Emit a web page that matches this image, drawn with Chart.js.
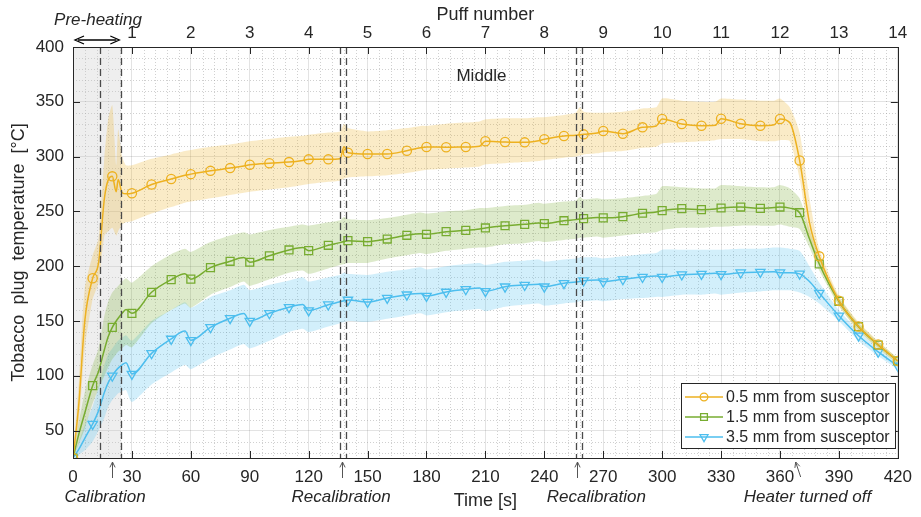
<!DOCTYPE html>
<html>
<head>
<meta charset="utf-8">
<script src="https://cdn.jsdelivr.net/npm/chart.js@4.4.0/dist/chart.umd.min.js"></script>
<style>
  html, body { margin: 0; padding: 0; background: #fff; }
  #wrap { width: 921px; height: 517px; }
</style>
</head>
<body>
<div id="wrap"><canvas id="chart" width="921" height="517"></canvas></div>
<script>
/* ---------- data ---------- */
const timeS = [0,3,6,10,13,16,18,20,22,23, 25,27,30,40,50,57,60,70,80,87, 90,100,110,117,120,130,136,138,140,150,
  160,170,177,180,190,200,207,210,220,230, 237,240,250,256,258,260,267,270,280,290, 297,300,310,320,327,330,340,350,357,360,
  365,370,375,380,390,400,410,420];

const mean05 = [25,75,150,189,203,262,279,282,268,279, 267,266,266.5,274.5,279.5,283,284,287,289.5,291.5,
  292.5,294,295,296.5,297.5,297.5,298,309,303.6,302.4, 302.4,305.4,308,308.8,308.5,308.8,309.5,314,313.3,313,
  314.5,315.8,318.8,319.5,320,320.3,321.5,323.4,320.9,326.7, 328,334.3,329.8,328.2,328.5,334.6,330,328.2,329,334.3,
  331,296.5,240,209,168.5,145,128.5,113.5];
const upper05 = [25,95,180,210,225,300,335,347,292,325, 300,292,292,298,302,305,306,309,311,313,
  314,316,318,319,320,322,323,330,326,323, 324,326,328,328,330,331,332,334,335,335,
  336,336,338,340,345,341,340,340,341,344, 345,353,351,350,350,353,352,351,351,353,
  345,322,262,216,173,149,131.5,116];
const lower05 = [25,58,125,170,185,228,232,235,228,232, 238,240,241,248,254,258,259,262,265,267,
  268,270,272,274,275,277,278,280,281,282, 283,285,287,288,289,290,291,293,294,295,
  296,297,299,300,301,302,303,304,305,308, 309,312,313,314,315,316,316,314,314,315,
  314,280,225,202,164,141,125.5,111];

const mean15 = [25,47,66,91,104,124,136,144.2,150,152.5, 157,160.5,157,176.2,187.7,193,188.2,198.7,204.5,208,
  203.6,209.5,214.8,217,214.2,219.1,221.5,222.5,223.3,222.4, 224.8,228.2,229.5,229.1,231.5,232.7,234,234.9,236.9,238.2,
  239.5,238.8,241.5,242.5,243,243.4,244.5,244.1,245.2,248.3, 249.5,250.7,252.5,251.6,252.2,253.1,254,252.8,253.5,254,
  253,248.8,225,202,168,144.8,128.1,113.5];
const upper15 = [25,58,85,110,125,155,168,176,180,182, 186,189,185,200,211,216,213,222,228,231,
  229,233,236,238,237,240,242,245,243,242, 244,247,249,248,250,251,253,253,255,256,
  258,257,259,260,263,261,262,261,262,264, 266,273,272,271,271,274,273,272,272,274,
  271,262,234,208,172,148,131,116];
const lower15 = [25,38,52,75,88,100,108,115,120,122, 125,128,126,148,160,166,162,174,181,186,
  182,188,194,196,193,198,201,202,203,203, 207,210,212,211,214,216,217,217,220,221,
  223,222,224,225,226,226,227,226,228,230, 231,233,235,235,236,236,237,237,237,238,
  236,234,217,196,164,141.5,125,111];

const mean35 = [25,33,43,56,68,85,94,100,105,107, 110,112,101.6,120.5,133.6,140.8,132.4,144.2,152.5,156.8,
  150,157,162.5,165,159.6,164.9,167.5,168.5,169.2,167.3, 171,174,175,172.8,176.5,178.9,180,177.1,181.3,182.8,
  183.5,181.3,184.4,185.5,186,186.8,187.5,185.9,188,190.1, 191,190.1,192.3,192.9,193.5,192.6,194.1,194.7,195,194.1,
  194,193,186,175.5,154.8,136.5,121.8,109];
const upper35 = [25,40,55,72,90,110,120,125,130,132, 135,137,132,150,160,167,162,172,178,183,
  178,183,187,190,186,190,192,194,193,192, 195,197,199,197,200,202,203,201,204,205,
  206,204,206,207,208,208,208,207,209,211, 212,215,215,215,215,215,216,216,217,217,
  216,214,200,185,160,141,125,112];
const lower35 = [25,28,32,40,50,62,72,78,82,84, 86,87,76,92,103,110,106,116,124,129,
  125,132,140,143,140,145,148,149,150,149, 152,155,157,155,158,160,161,159,163,165,
  166,164,166,167,168,168,169,168,170,171, 172,172,174,174,175,174,176,177,178,178,
  178,176,172,166,150,132,118,106];

const seriesNames = ['0.5 mm from susceptor', '1.5 mm from susceptor', '3.5 mm from susceptor'];
const xTicks = [0,30,60,90,120,150,180,210,240,270,300,330,360,390,420];
const yTicks = [50,100,150,200,250,300,350,400];
const puffTicks = [1,2,3,4,5,6,7,8,9,10,11,12,13,14];

const dashedTimes = [13.6, 24.6, 136, 139, 256.3, 259];
const preheatEnd = 24.6;
const arrowTimes = [20, 137, 256.6];
const heaterOffTime = 369;
const noteTexts = ['Calibration', 'Recalibration', 'Recalibration', 'Heater turned off'];
const noteTimes = [16.3, 136.5, 266.5, 374];

/* ---------- styles ---------- */
const colors = ['#EDB120', '#77AC30', '#4DBEEE'];
const bandColors = ['rgba(237,177,32,0.25)', 'rgba(119,172,48,0.25)', 'rgba(77,190,238,0.25)'];
const pointStyles = ['circle', 'rect', 'triangle'];
const pointRots = [0, 0, 180];
const pointSizes = [4.6, 5.6, 5.4];
const INK = '#262626';
const FONT = '"Liberation Sans", Arial, Helvetica, sans-serif';

function toXY(vals) {
  return timeS.map((t, i) => ({ x: t, y: vals[i] }));
}

const means = [mean05, mean15, mean35];
const uppers = [upper05, upper15, upper35];
const lowers = [lower05, lower15, lower35];

const datasets = [];
means.forEach((m, k) => {
  const lowIdx = datasets.length;
  datasets.push({
    label: 'low' + k, data: toXY(lowers[k]), borderWidth: 0, pointRadius: 0,
    fill: false, order: 20, tension: 0.2
  });
  datasets.push({
    label: 'up' + k, data: toXY(uppers[k]), borderWidth: 0, pointRadius: 0,
    fill: lowIdx, backgroundColor: bandColors[k], order: 20, tension: 0.2
  });
});
means.forEach((m, k) => {
  datasets.push({
    label: seriesNames[k], data: toXY(m), borderColor: colors[k], borderWidth: 1.5,
    cubicInterpolationMode: 'monotone', fill: false, order: 1 + k,
    pointStyle: pointStyles[k], pointRotation: pointRots[k],
    pointRadius: ctx => (ctx.raw && ctx.raw.x % 10 === 0) ? pointSizes[k] : 0,
    pointBorderColor: colors[k], pointBackgroundColor: 'rgba(0,0,0,0)', pointBorderWidth: 1.3
  });
});

/* ---------- plugin: grid extras, annotations, legend ---------- */
const decor = {
  id: 'decor',
  beforeDatasetsDraw(chart) {
    const { ctx, chartArea: a, scales } = chart;
    const xs = scales.x, ys = scales.y;
    ctx.save();
    // minor dotted grid
    ctx.strokeStyle = 'rgba(150,150,150,0.45)';
    ctx.lineWidth = 1;
    ctx.setLineDash([1, 2]);
    for (let t = 6; t < 420; t += 6) {
      if (t % 30 === 0) continue;
      const px = Math.round(xs.getPixelForValue(t)) + 0.5;
      ctx.beginPath(); ctx.moveTo(px, a.top); ctx.lineTo(px, a.bottom); ctx.stroke();
    }
    for (let v = 30; v < 400; v += 10) {
      if (v % 50 === 0) continue;
      const py = Math.round(ys.getPixelForValue(v)) + 0.5;
      ctx.beginPath(); ctx.moveTo(a.left, py); ctx.lineTo(a.right, py); ctx.stroke();
    }
    ctx.setLineDash([]);
    // pre-heating shade
    ctx.fillStyle = 'rgba(200,200,200,0.3)';
    const x0 = xs.getPixelForValue(0), x1 = xs.getPixelForValue(preheatEnd);
    ctx.fillRect(x0, a.top, x1 - x0, a.bottom - a.top);
    ctx.restore();
  },
  afterDatasetsDraw(chart) {
    const { ctx, chartArea: a, scales } = chart;
    const xs = scales.x;
    ctx.save();
    ctx.strokeStyle = '#4a4a4a';
    ctx.lineWidth = 1.3;
    ctx.setLineDash([7, 4]);
    dashedTimes.forEach(t => {
      const px = Math.round(xs.getPixelForValue(t)) + 0.5;
      ctx.beginPath(); ctx.moveTo(px, a.top); ctx.lineTo(px, a.bottom); ctx.stroke();
    });
    ctx.restore();
  },
  afterDraw(chart) {
    const { ctx, chartArea: a, scales } = chart;
    const xs = scales.x, ys = scales.y, xt = scales.xTop;
    ctx.save();
    // inward ticks
    ctx.strokeStyle = INK;
    ctx.lineWidth = 1;
    xTicks.forEach(t => {
      const px = Math.round(xs.getPixelForValue(t)) + 0.5;
      ctx.beginPath(); ctx.moveTo(px, a.bottom); ctx.lineTo(px, a.bottom - 7); ctx.stroke();
    });
    puffTicks.forEach(p => {
      const px = Math.round(xt.getPixelForValue(p)) + 0.5;
      ctx.beginPath(); ctx.moveTo(px, a.top); ctx.lineTo(px, a.top + 7); ctx.stroke();
    });
    yTicks.forEach(v => {
      const py = Math.round(ys.getPixelForValue(v)) + 0.5;
      ctx.beginPath(); ctx.moveTo(a.left, py); ctx.lineTo(a.left + 7, py); ctx.stroke();
      ctx.beginPath(); ctx.moveTo(a.right, py); ctx.lineTo(a.right - 7, py); ctx.stroke();
    });
    // box
    ctx.strokeRect(Math.round(a.left) + 0.5, Math.round(a.top) + 0.5,
      Math.round(a.right - a.left), Math.round(a.bottom - a.top));

    // up arrows under the axis
    ctx.strokeStyle = '#555';
    ctx.lineWidth = 1;
    const arrow = (xA, yA, xB, yB) => {
      ctx.beginPath(); ctx.moveTo(xA, yA); ctx.lineTo(xB, yB); ctx.stroke();
      const ang = Math.atan2(yB - yA, xB - xA);
      ctx.beginPath();
      ctx.moveTo(xB - 6 * Math.cos(ang - 0.45), yB - 6 * Math.sin(ang - 0.45));
      ctx.lineTo(xB, yB);
      ctx.lineTo(xB - 6 * Math.cos(ang + 0.45), yB - 6 * Math.sin(ang + 0.45));
      ctx.stroke();
    };
    arrowTimes.forEach(t => {
      const px = Math.round(xs.getPixelForValue(t)) + 0.5;
      arrow(px, a.bottom + 20, px, a.bottom + 4);
    });
    const hx = xs.getPixelForValue(heaterOffTime);
    arrow(hx + 3, a.bottom + 19, hx - 2, a.bottom + 4);

    // italic notes
    ctx.fillStyle = INK;
    ctx.font = 'italic 17px ' + FONT;
    ctx.textAlign = 'center';
    ctx.textBaseline = 'middle';
    noteTexts.forEach((s, i) => ctx.fillText(s, xs.getPixelForValue(noteTimes[i]), 497));
    ctx.fillText('Pre-heating', 98, 20);

    // pre-heating double arrow
    ctx.strokeStyle = '#000';
    ctx.lineWidth = 1.3;
    const ax0 = xs.getPixelForValue(0) + 2, ax1 = xs.getPixelForValue(preheatEnd) - 2, ay = 40;
    ctx.beginPath(); ctx.moveTo(ax0 + 3, ay); ctx.lineTo(ax1 - 3, ay); ctx.stroke();
    ctx.beginPath(); ctx.moveTo(ax0 + 9, ay - 4); ctx.lineTo(ax0, ay); ctx.lineTo(ax0 + 9, ay + 4); ctx.stroke();
    ctx.beginPath(); ctx.moveTo(ax1 - 9, ay - 4); ctx.lineTo(ax1, ay); ctx.lineTo(ax1 - 9, ay + 4); ctx.stroke();

    // "Middle"
    ctx.fillStyle = INK;
    ctx.font = '17px ' + FONT;
    ctx.fillText('Middle', xs.getPixelForValue(208), 76);

    // legend
    const lx = 681, ly = 383, lw = 214, lh = 65;
    ctx.fillStyle = '#fff';
    ctx.fillRect(lx, ly, lw, lh);
    ctx.strokeStyle = INK;
    ctx.lineWidth = 1;
    ctx.strokeRect(lx + 0.5, ly + 0.5, lw, lh);
    ctx.textAlign = 'left';
    ctx.font = '16px ' + FONT;
    seriesNames.forEach((name, k) => {
      const ry = ly + 14 + k * 20;
      ctx.strokeStyle = colors[k];
      ctx.lineWidth = 1.5;
      ctx.beginPath(); ctx.moveTo(lx + 4, ry); ctx.lineTo(lx + 42, ry); ctx.stroke();
      ctx.lineWidth = 1.3;
      ctx.fillStyle = 'rgba(255,255,255,0)';
      Chart.helpers.drawPoint(ctx, { pointStyle: pointStyles[k], rotation: pointRots[k],
        radius: pointSizes[k] - 0.8, borderWidth: 1.3 }, lx + 23, ry);
      ctx.fillStyle = INK;
      ctx.fillText(name, lx + 45, ry + 1);
    });
    ctx.restore();
  }
};

/* ---------- chart ---------- */
new Chart(document.getElementById('chart').getContext('2d'), {
  type: 'line',
  data: { datasets },
  plugins: [decor],
  options: {
    responsive: false,
    animation: false,
    events: [],
    devicePixelRatio: 1,
    layout: { padding: { left: 0, right: 16, top: 0, bottom: 5 } },
    plugins: { legend: { display: false }, tooltip: { enabled: false } },
    scales: {
      x: {
        type: 'linear', position: 'bottom', min: 0, max: 420,
        afterBuildTicks: s => { s.ticks = xTicks.map(v => ({ value: v })); },
        afterFit: s => { s.height = 54; },
        grid: { color: 'rgba(38,38,38,0.13)', drawTicks: false },
        border: { display: false },
        ticks: { color: INK, font: { family: FONT, size: 17 }, padding: 9, maxRotation: 0 },
        title: { display: true, text: 'Time [s]', color: INK, font: { family: FONT, size: 18 }, padding: { top: 0, bottom: 0 } }
      },
      xTop: {
        type: 'linear', position: 'top', min: 0, max: 14,
        afterBuildTicks: s => { s.ticks = puffTicks.map(v => ({ value: v })); },
        afterFit: s => { s.height = 47; },
        grid: { display: false, drawTicks: false },
        border: { display: false },
        ticks: { color: INK, font: { family: FONT, size: 17 }, padding: 3, maxRotation: 0 },
        title: { display: true, text: 'Puff number', color: INK, font: { family: FONT, size: 18 }, padding: { top: 4, bottom: 0 } }
      },
      y: {
        type: 'linear', min: 25, max: 400,
        afterBuildTicks: s => { s.ticks = yTicks.map(v => ({ value: v })); },
        afterFit: s => { s.width = 73; },
        grid: { color: 'rgba(38,38,38,0.13)', drawTicks: false },
        border: { display: false },
        ticks: { color: INK, font: { family: FONT, size: 17 }, padding: 9 },
        title: { display: true, text: 'Tobacco  plug  temperature  [°C]', color: INK, font: { family: FONT, size: 18 }, padding: { top: 8, bottom: 0 } }
      }
    }
  }
});
</script>
</body>
</html>
